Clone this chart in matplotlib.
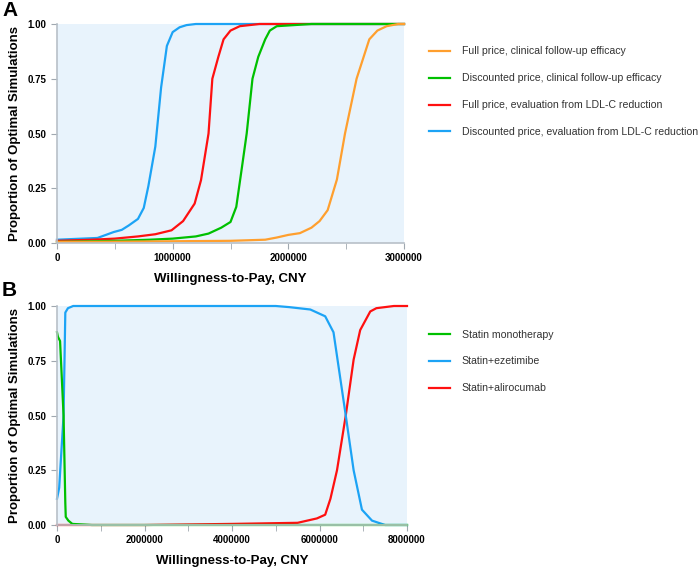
import numpy as np
import matplotlib.pyplot as plt
from matplotlib.ticker import MultipleLocator

plt.rcParams['font.family'] = ['Liberation Sans', 'DejaVu Sans']

# Panel A data
a_full_clin_x = [0, 500000, 1000000, 1500000, 1800000, 1900000, 2000000, 2100000, 2200000, 2270000,
                 2340000, 2420000, 2490000, 2590000, 2700000, 2770000, 2850000, 2950000, 3000000]
a_full_clin_y = [0.005, 0.006, 0.008, 0.01, 0.015, 0.025, 0.037, 0.045, 0.07, 0.10,
                 0.15, 0.29, 0.50, 0.75, 0.93, 0.97, 0.99, 1.0, 1.0]

a_disc_clin_x = [0, 500000, 800000, 1000000, 1200000, 1310000, 1420000, 1500000, 1550000, 1600000,
                 1640000, 1690000, 1740000, 1800000, 1840000, 1900000, 2200000, 3000000]
a_disc_clin_y = [0.005, 0.01, 0.015, 0.02, 0.03, 0.043, 0.07, 0.096, 0.165, 0.35,
                 0.50, 0.75, 0.85, 0.93, 0.97, 0.99, 1.0, 1.0]

a_full_ldl_x = [0, 300000, 500000, 700000, 850000, 990000, 1090000, 1190000, 1245000, 1310000,
                1343000, 1395000, 1440000, 1500000, 1580000, 1750000, 3000000]
a_full_ldl_y = [0.01, 0.015, 0.02, 0.03, 0.04, 0.058, 0.10, 0.18, 0.287, 0.50,
                0.75, 0.85, 0.93, 0.97, 0.99, 1.0, 1.0]

a_disc_ldl_x = [0, 350000, 490000, 560000, 620000, 700000, 750000, 790000, 850000, 900000,
                950000, 1000000, 1060000, 1120000, 1200000, 3000000]
a_disc_ldl_y = [0.015, 0.023, 0.05, 0.06, 0.08, 0.11, 0.16, 0.26, 0.44, 0.71,
                0.90, 0.963, 0.985, 0.995, 1.0, 1.0]

# Panel B data
b_mono_x = [0, 20000, 70000, 150000, 190000, 200000, 260000, 350000, 800000, 8000000]
b_mono_y = [0.88, 0.86, 0.84, 0.5, 0.1, 0.037, 0.02, 0.005, 0.0, 0.0]

b_eze_x = [0, 50000, 150000, 190000, 250000, 370000, 5000000, 5300000, 5790000, 6130000,
           6320000, 6600000, 6780000, 6970000, 7200000, 7500000, 8000000]
b_eze_y = [0.12, 0.17, 0.5, 0.97, 0.99, 1.0, 1.0, 0.995, 0.984, 0.953,
           0.88, 0.5, 0.25, 0.07, 0.02, 0.0, 0.0]

b_ali_x = [0, 2000000, 4000000, 5500000, 5940000, 6130000, 6250000, 6400000, 6600000, 6780000,
           6930000, 7160000, 7300000, 7700000, 8000000]
b_ali_y = [0.0, 0.0, 0.005, 0.01, 0.03, 0.047, 0.12, 0.25, 0.5, 0.755,
           0.89, 0.975, 0.99, 1.0, 1.0]

orange = '#FF9F2E'
green = '#00C000'
red = '#FF1010'
blue = '#1CA3F5'
bg = '#E8F3FC'
grey = '#A0A8B0'

fig = plt.figure(figsize=(6.99, 5.68), dpi=100)
W, H = 699, 568
axA = fig.add_axes([57 / W, 1 - 243 / H, (404 - 57) / W, (243 - 24) / H])
axB = fig.add_axes([57 / W, 1 - 525 / H, (407 - 57) / W, (525 - 306) / H])


def style(ax, xmax, major, minor):
    ax.set_facecolor(bg)
    ax.set_xlim(0, xmax)
    ax.set_ylim(0, 1)
    ax.xaxis.set_major_locator(MultipleLocator(major))
    ax.xaxis.set_minor_locator(MultipleLocator(minor))
    ax.set_yticks([0, 0.25, 0.5, 0.75, 1.0])
    ax.set_yticklabels(['0.00', '0.25', '0.50', '0.75', '1.00'])
    ax.ticklabel_format(axis='x', style='plain')
    for s in ['top', 'right']:
        ax.spines[s].set_visible(False)
    for s in ['left', 'bottom']:
        ax.spines[s].set_color('#B8C0C8')
        ax.spines[s].set_linewidth(1.2)
    ax.tick_params(axis='both', which='both', color=grey, direction='out')
    ax.tick_params(axis='both', which='major', length=4, labelsize=7, pad=3.5)
    ax.tick_params(axis='x', which='minor', length=4)
    for lab in ax.get_xticklabels() + ax.get_yticklabels():
        lab.set_fontweight('bold')
    ax.set_xlabel('Willingness-to-Pay, CNY', fontsize=9.5, fontweight='bold', labelpad=7)
    ax.set_ylabel('Proportion of Optimal Simulations', fontsize=9.5, fontweight='bold', labelpad=5)


lw = 1.6
axA.plot(a_disc_ldl_x, a_disc_ldl_y, color=blue, lw=lw, label='Discounted price, evaluation from LDL-C reduction', clip_on=False)
axA.plot(a_full_ldl_x, a_full_ldl_y, color=red, lw=lw, label='Full price, evaluation from LDL-C reduction', clip_on=False)
axA.plot(a_disc_clin_x, a_disc_clin_y, color=green, lw=lw, label='Discounted price, clinical follow-up efficacy', clip_on=False)
axA.plot(a_full_clin_x, a_full_clin_y, color=orange, lw=lw, label='Full price, clinical follow-up efficacy', clip_on=False)
style(axA, 3000000, 1000000, 500000)
hA, lA = axA.get_legend_handles_labels()
axA.legend(hA[::-1], lA[::-1], loc='upper left', bbox_to_anchor=(419 / W, 1 - 37 / H),
           bbox_transform=fig.transFigure, frameon=False, fontsize=7.6,
           labelspacing=1.6, handlelength=2.05, handletextpad=1.1, labelcolor='#333333')

axB.plot(b_ali_x, b_ali_y, color=red, lw=lw, label='Statin+alirocumab', clip_on=False)
axB.plot(b_eze_x, b_eze_y, color=blue, lw=lw, label='Statin+ezetimibe', clip_on=False)
axB.plot(b_mono_x, b_mono_y, color=green, lw=lw, label='Statin monotherapy', clip_on=False)
style(axB, 8000000, 2000000, 1000000)
hB, lB = axB.get_legend_handles_labels()
axB.legend(hB[::-1], lB[::-1], loc='upper left', bbox_to_anchor=(419 / W, 1 - 320 / H),
           bbox_transform=fig.transFigure, frameon=False, fontsize=7.6,
           labelspacing=1.6, handlelength=2.05, handletextpad=1.1, labelcolor='#333333')

fig.text(2 / W, 1 - 11 / H, 'A', fontsize=15, fontweight='bold', va='center', ha='left')
fig.text(2 / W, 1 - 290 / H, 'B', fontsize=15, fontweight='bold', va='center', ha='left')

fig.savefig('out.png', dpi=100)
